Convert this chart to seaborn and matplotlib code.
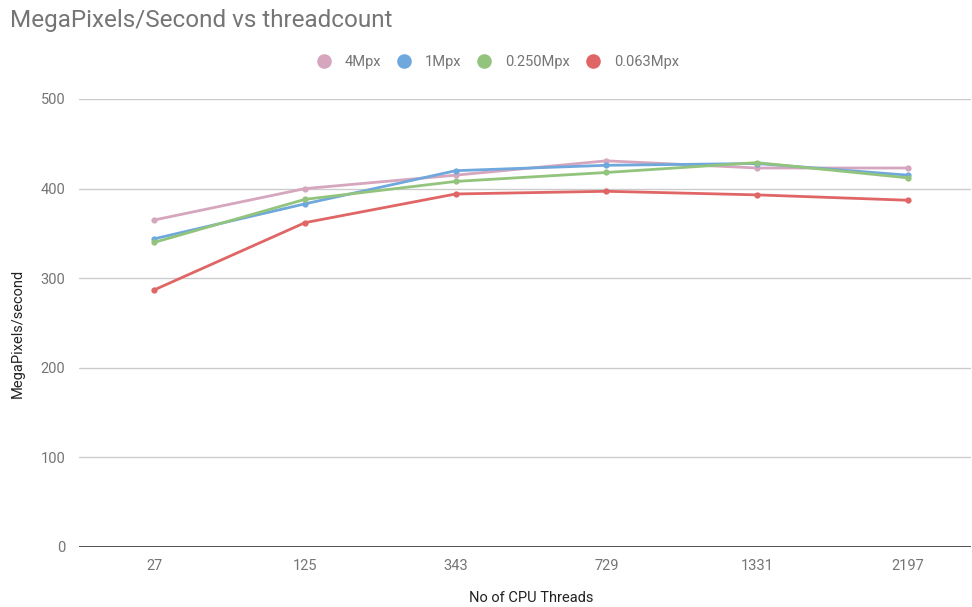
import matplotlib
matplotlib.use("Agg")
import matplotlib.pyplot as plt
from matplotlib.lines import Line2D
import seaborn as sns
import pandas as pd

threads = ["27", "125", "343", "729", "1331", "2197"]
series_names = ["4Mpx", "1Mpx", "0.250Mpx", "0.063Mpx"]
mpx4 = [365, 400, 415, 431, 423, 423]
mpx1 = [344, 383, 420, 426, 428, 415]
mpx025 = [340, 388, 408, 418, 429, 412]
mpx0063 = [287, 362, 394, 397, 393, 387]
colors = ["#d5a6bd", "#6fa8dc", "#93c47d", "#e06666"]
y_ticks = [0, 100, 200, 300, 400, 500]

rows = []
for name, vals in zip(series_names, [mpx4, mpx1, mpx025, mpx0063]):
    for t, v in zip(threads, vals):
        rows.append({"threads": t, "value": v, "series": name})
df = pd.DataFrame(rows)

sns.set_theme(style="white")
plt.rcParams["font.family"] = ["Roboto", "DejaVu Sans"]

W, H = 972, 607
fig = plt.figure(figsize=(W / 100, H / 100), dpi=100)
ax = fig.add_axes([79 / W, (H - 547) / H, (971 - 79) / W, (547 - 99) / H])

ax.set_axisbelow(True)
for yt in y_ticks[1:]:
    ax.axhline(yt, color="#cccccc", lw=1, zorder=0)
ax.axhline(0, color="#333333", lw=1.2, zorder=1)

sns.lineplot(data=df, x="threads", y="value", hue="series", hue_order=series_names,
             palette=colors, marker="o", markersize=4.5, markeredgewidth=0,
             linewidth=2.0, ax=ax, legend=False, sort=False, clip_on=False)

ax.set_xlim(-0.5, 5.42)
ax.set_ylim(0, 500)
ax.set_yticks(y_ticks)
ax.set_yticklabels([str(v) for v in y_ticks])
for s in ax.spines.values():
    s.set_visible(False)
ax.tick_params(axis="both", length=0, colors="#757575", labelsize=10.5)
ax.tick_params(axis="y", pad=10)
ax.tick_params(axis="x", pad=9)
ax.set_xlabel("")
ax.set_ylabel("")

fig.text(531 / W, 1 - 598 / H, "No of CPU Threads", color="#222222", fontsize=10.5,
         ha="center", va="center")
fig.text(18 / W, 1 - 333 / H, "MegaPixels/second", color="#222222", fontsize=10.5,
         ha="center", va="center", rotation=90)

fig.text(10 / W, 1 - 20 / H, "MegaPixels/Second vs threadcount", fontsize=17.5,
         color="#757575", ha="left", va="center")

handles = [Line2D([0], [0], marker="o", linestyle="none", markersize=10.5,
                  markerfacecolor=c, markeredgewidth=0) for c in colors]
fig.legend(handles, series_names, loc="center", bbox_to_anchor=(494 / W, 1 - 62 / H),
           ncol=4, frameon=False, fontsize=10.5, handletextpad=0.45, columnspacing=0.55,
           labelcolor="#757575")

fig.savefig("out.png", dpi=100)
